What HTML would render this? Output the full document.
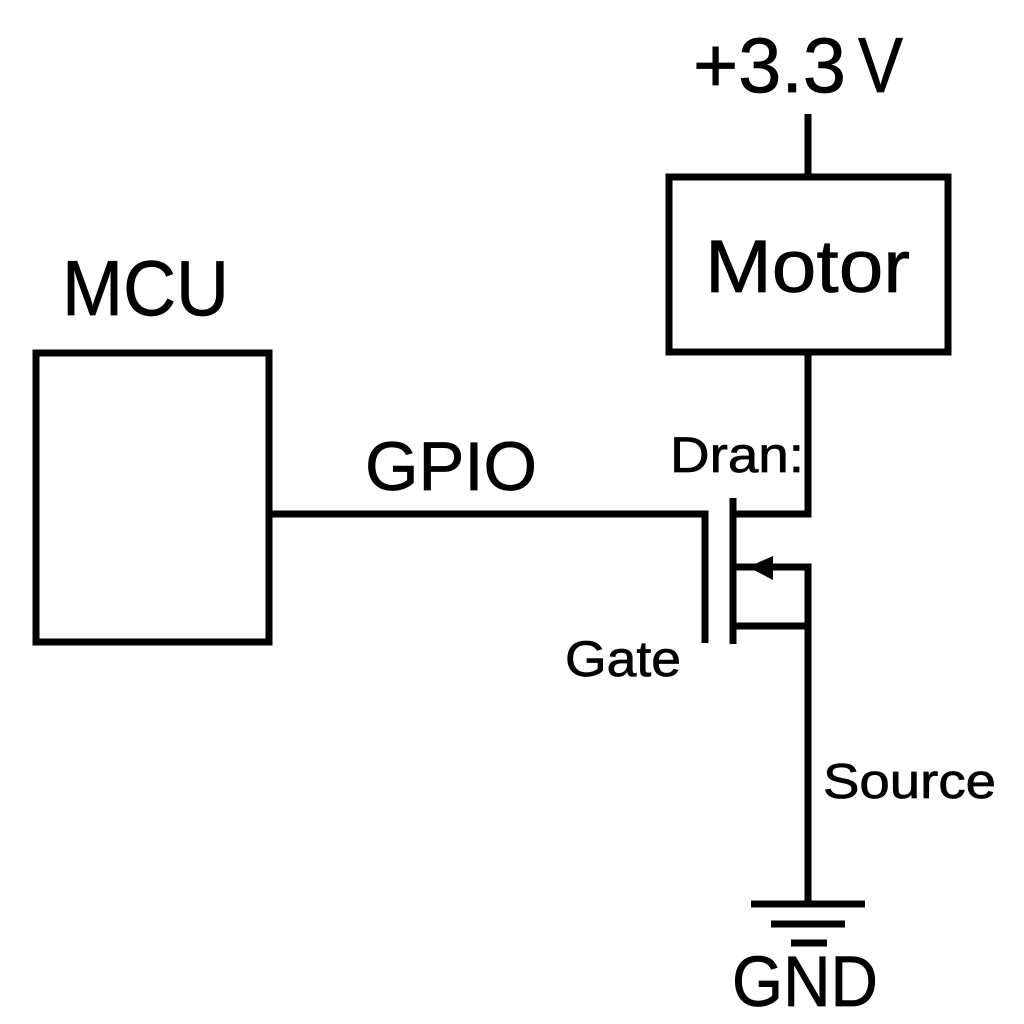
<!DOCTYPE html>
<html><head><meta charset="utf-8"><style>html,body{margin:0;padding:0;background:#fff}svg{display:block}text{font-family:"Liberation Sans",sans-serif;fill:#000;stroke:#000;stroke-width:.7}</style></head>
<body>
<svg width="1024" height="1024" viewBox="0 0 1024 1024" xmlns="http://www.w3.org/2000/svg">
<g fill="none" stroke="#000" stroke-width="7">
<rect x="36" y="353" width="233" height="289"/>
<rect x="669" y="177" width="279" height="175"/>
<path d="M808 114V177"/>
<path d="M808 352V514H733"/>
<path d="M269 514H705V643"/>
<path d="M733 498V644"/>
<path d="M733 567H808V903"/>
<path d="M733 626H808"/>
<path d="M751 904H865M771 924H845M791 943H827"/>
</g>
<path d="M748 567L773 556V580Z" fill="#000"/>
<text x="693" y="92" font-size="78" textLength="153" lengthAdjust="spacingAndGlyphs">+3.3</text>
<text x="858" y="92" font-size="78" textLength="45" lengthAdjust="spacingAndGlyphs">V</text>
<text x="705" y="292" font-size="74" textLength="205" lengthAdjust="spacingAndGlyphs">Motor</text>
<text x="62" y="315" font-size="78" textLength="167" lengthAdjust="spacingAndGlyphs">MCU</text>
<text x="365" y="490" font-size="69" textLength="172" lengthAdjust="spacingAndGlyphs">GPIO</text>
<text x="670" y="472" font-size="50" textLength="134" lengthAdjust="spacingAndGlyphs">Dran:</text>
<text x="565" y="676" font-size="50" textLength="116" lengthAdjust="spacingAndGlyphs">Gate</text>
<text x="823" y="798" font-size="49" textLength="173" lengthAdjust="spacingAndGlyphs">Source</text>
<text x="732" y="1006" font-size="71" textLength="146" lengthAdjust="spacingAndGlyphs">GND</text>
</svg>
</body></html>
